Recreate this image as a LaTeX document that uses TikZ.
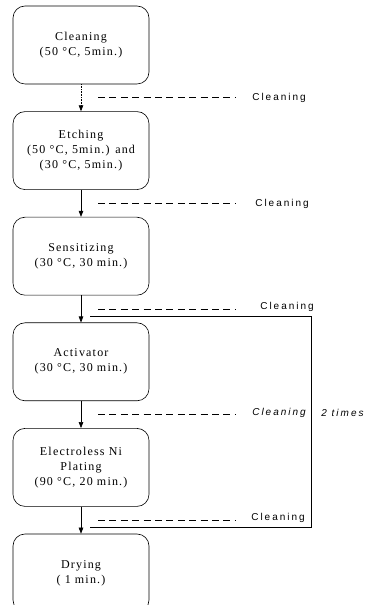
\documentclass[tikz,border=0pt]{standalone}
\usepackage{fontspec}
\setmainfont{Liberation Serif}[LetterSpace=10]
\newfontfamily\washfont{Liberation Sans}[LetterSpace=20]
\usetikzlibrary{arrows.meta,positioning,calc}

\begin{document}
\begin{tikzpicture}[
  process/.style={rectangle, draw, rounded corners=12pt, minimum width=136pt,
                  minimum height=78pt, font=\fontsize{12}{15}\selectfont,
                  align=center, inner sep=2pt},
  wash/.style={font=\washfont\fontsize{10}{12}\selectfont, anchor=west, inner sep=0pt},
  rinse/.style={dash pattern=on 7pt off 4.4pt},
  >={Triangle[length=6pt,width=4.5pt]}, line width=0.6pt,
  node distance=27pt,
]
  \useasboundingbox (0,0) rectangle (377pt,605pt);

  \node[process] (clean) at (81pt,560pt) {Cleaning\\(50 °C, 5min.)};
  \node[process, below=of clean] (etch) {Etching\\(50 °C, 5min.) and\\(30 °C, 5min.)};
  \node[process, below=of etch] (sens) {Sensitizing\\(30 °C, 30 min.)};
  \node[process, below=of sens] (act) {Activator\\(30 °C, 30 min.)};
  \node[process, below=of act] (plate) {Electroless Ni\\Plating\\(90 °C, 20 min.)};
  \node[process, below=of plate] (dry) {Drying\\( 1 min.)};

  % rinse steps between the baths
  \coordinate (r1) at ($(clean.south)!0.5!(etch.north)$);
  \coordinate (r2) at ($(etch.south)!0.5!(sens.north)$);
  \coordinate (r3) at ($(sens.south)!0.5!(act.north)$);
  \coordinate (r4) at ($(act.south)!0.5!(plate.north)$);
  \coordinate (r5) at ($(plate.south)!0.5!(dry.north)$);

  \node[wash] (wash1) at ($(r1)+(171pt,0)$) {Cleaning};
  \node[wash] (wash2) at ($(r2)+(174pt,-1pt)$) {Cleaning};
  \node[wash] (wash3) at ($(r3)+(179pt,2pt)$) {Cleaning};
  \node[wash] (wash4) at ($(r4)+(171pt,2pt)$) {\itshape Cleaning};
  \node[wash] (wash5) at ($(r5)+(170pt,2pt)$) {Cleaning};
  \node[wash, right=15pt of wash4] (twice) {\itshape 2 times};

  \draw[->, densely dotted] (clean) -- (etch);
  \draw[->] (etch) -- (sens);
  \draw[->] (sens) -- (act);
  \draw[->] (act) -- (plate);
  \draw[->] (plate) -- (dry);

  \draw[rinse] ($(r1)+(17pt,0)$) -- ($(r1)+(154pt,0)$);
  \draw[rinse] ($(r2)+(17pt,0)$) -- ($(r2)+(154pt,0)$);
  \draw[rinse] ($(r3)+(17pt,0)$) -- ($(r3)+(154pt,0)$);
  \draw[rinse] ($(r4)+(17pt,0)$) -- ($(r4)+(154pt,0)$);
  \draw[rinse] ($(r5)+(17pt,0)$) -- ($(r5)+(154pt,0)$);

  % repeat loop
  \coordinate (loopA) at ($(sens.south)!0.78!(act.north)+(9pt,0)$);
  \coordinate (loopB) at ($(plate.south)!0.78!(dry.north)+(9pt,0)$);
  \coordinate (loopR) at (311pt,0);
  \draw (loopA) -- (loopR |- loopA) -- (loopR |- loopB) -- (loopB);
\end{tikzpicture}
\end{document}
